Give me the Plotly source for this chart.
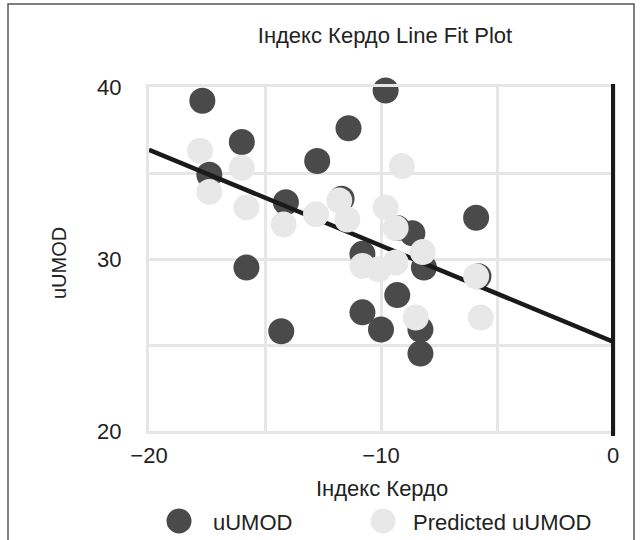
import plotly.graph_objects as go

# ---- data ----
kerdo_x = [-17.7, -9.8, -16.0, -11.4, -12.75, -17.4, -14.1, -11.7, -10.8, -9.3,
           -8.65, -5.9, -8.15, -5.8, -9.3, -10.8, -10.0, -8.3, -8.3, -15.8, -14.3]
uumod = [39.2, 39.8, 36.8, 37.6, 35.7, 34.9, 33.3, 33.5, 30.3, 31.8,
         31.5, 32.4, 29.5, 29.0, 27.9, 26.9, 25.9, 25.9, 24.5, 29.5, 25.8]

pred_x = [-17.8, -16.0, -17.4, -15.8, -14.2, -12.8, -11.8, -11.45, -9.8, -9.1,
          -9.37, -10.8, -10.1, -9.37, -8.2, -5.9, -8.5, -5.7]
pred_uumod = [36.3, 35.3, 33.9, 33.0, 32.0, 32.6, 33.4, 32.3, 33.0, 35.4,
              31.8, 29.6, 29.4, 29.8, 30.4, 29.0, 26.6, 26.6]

fit_x = [-20, 0]
fit_y = [36.35, 25.2]

x_ticks = [-20, -10, 0]
y_ticks = [20, 30, 40]

# ---- styling ----
W, H = 642, 540
L, R, T, B = 149, 29, 87, 109
PW, PH = W - L - R, H - T - B
FONT = "Liberation Sans, Arial, sans-serif"
TXT = "#222222"
DARK = "#4a4a4a"
LIGHT = "#e8e8e8"
GRID = "#e6e6e6"


def px(xp):
    return (xp - L) / PW


def py(yp):
    return (H - B - yp) / PH


fig = go.Figure()
fig.add_trace(go.Scatter(x=kerdo_x, y=uumod, mode="markers", name="uUMOD",
                         marker=dict(size=26, color=DARK, line=dict(width=0)),
                         showlegend=False, cliponaxis=False))
fig.add_trace(go.Scatter(x=fit_x, y=fit_y, mode="lines", name="fit",
                         line=dict(color="#1a1a1a", width=4.5), showlegend=False))
fig.add_trace(go.Scatter(x=pred_x, y=pred_uumod, mode="markers", name="Predicted uUMOD",
                         marker=dict(size=26, color=LIGHT, line=dict(width=0)),
                         showlegend=False, cliponaxis=False))

shapes = [
    # outer frame
    dict(type="rect", xref="paper", yref="paper", x0=px(8), x1=px(634), y0=py(560), y1=py(4),
         line=dict(color="#555555", width=1.5), layer="below"),
    # vertical axis line at x = 0 (right edge)
    dict(type="line", xref="paper", yref="paper", x0=1, x1=1, y0=py(436), y1=py(84),
         line=dict(color="#1a1a1a", width=4), layer="above"),
    # legend symbols
    dict(type="circle", xref="paper", yref="paper", xsizemode="pixel", ysizemode="pixel",
         xanchor=px(179), yanchor=py(521), x0=-12.5, x1=12.5, y0=-12.5, y1=12.5,
         fillcolor=DARK, line=dict(width=0)),
    dict(type="circle", xref="paper", yref="paper", xsizemode="pixel", ysizemode="pixel",
         xanchor=px(383), yanchor=py(521), x0=-12.5, x1=12.5, y0=-12.5, y1=12.5,
         fillcolor=LIGHT, line=dict(width=0)),
]

annotations = [
    dict(text="Індекс Кердо", xref="paper", yref="paper", x=px(382), y=py(488),
         showarrow=False, xanchor="center", yanchor="middle", font=dict(size=22)),
    dict(text="uUMOD", xref="paper", yref="paper", x=px(59), y=py(263), textangle=-90,
         showarrow=False, xanchor="center", yanchor="middle", font=dict(size=20)),
    dict(text="uUMOD", xref="paper", yref="paper", x=px(211), y=py(522),
         showarrow=False, xanchor="left", yanchor="middle", font=dict(size=22)),
    dict(text="Predicted uUMOD", xref="paper", yref="paper", x=px(411), y=py(522),
         showarrow=False, xanchor="left", yanchor="middle", font=dict(size=22)),
]

fig.update_layout(
    width=W, height=H,
    margin=dict(l=L, r=R, t=T, b=B, pad=0),
    paper_bgcolor="white", plot_bgcolor="white",
    font=dict(family=FONT, size=22, color=TXT),
    title=dict(text="Індекс Кердо Line Fit Plot", x=px(385), xref="paper", xanchor="center",
               y=1 - 35 / H, yref="container", yanchor="middle",
               font=dict(size=22, color=TXT)),
    showlegend=False,
    shapes=shapes,
    annotations=annotations,
    xaxis=dict(range=[-20, 0], tickvals=x_ticks, showgrid=True, gridcolor=GRID, gridwidth=3,
               minor=dict(dtick=5, showgrid=True, gridcolor=GRID, gridwidth=3),
               showline=True, linecolor=GRID, linewidth=3, mirror=True,
               zeroline=False, ticks="", ticklabelstandoff=3,
               tickfont=dict(size=22, color=TXT)),
    yaxis=dict(range=[20, 40], tickvals=y_ticks, showgrid=True, gridcolor=GRID, gridwidth=3,
               minor=dict(dtick=5, showgrid=True, gridcolor=GRID, gridwidth=3),
               showline=True, linecolor=GRID, linewidth=3, mirror=True,
               zeroline=False, ticks="", ticklabelstandoff=20,
               tickfont=dict(size=22, color=TXT)),
)

fig.write_html("out.html")
